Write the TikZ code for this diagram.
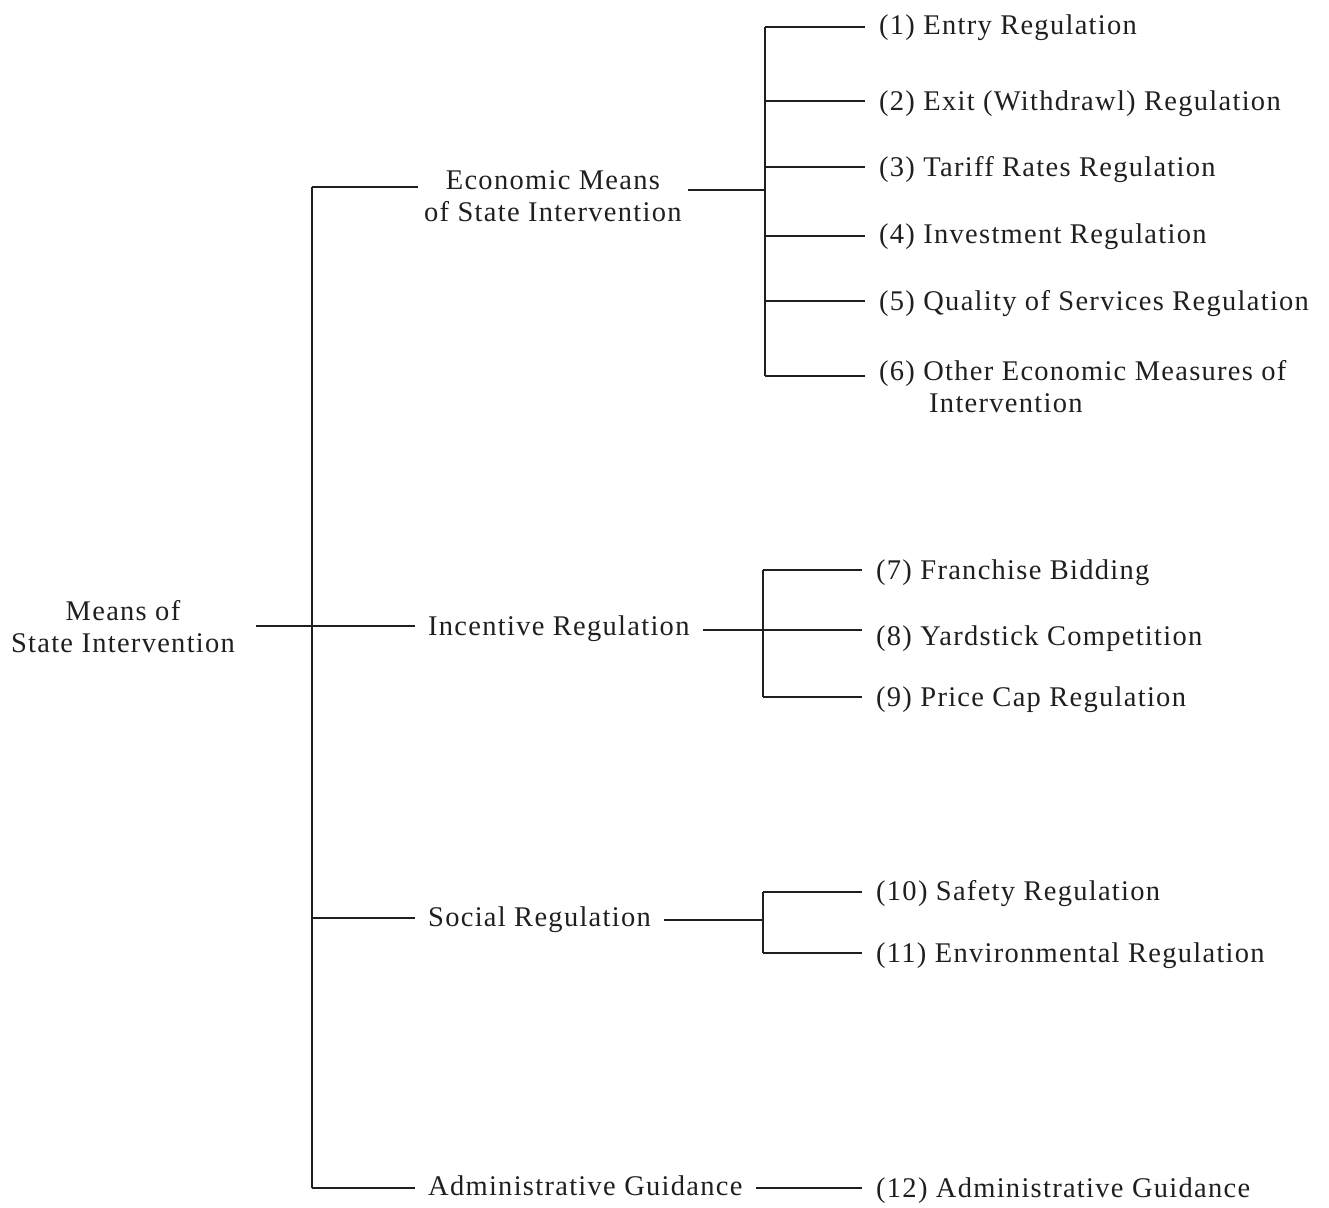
\documentclass[tikz,border=0pt]{standalone}
\usepackage{fontspec}
\setmainfont{Liberation Serif}[LetterSpace=4.5]
\begin{document}
\begin{tikzpicture}[x=1pt,y=-1pt,
  every node/.style={font=\fontsize{28.5}{32}\selectfont, text=black!88},
  conn/.style={line width=1.5pt, black!88},
  leaf/.style={anchor=west, inner xsep=14pt, inner ysep=0pt, yshift=-3pt},
  branch/.style={anchor=west, inner xsep=13pt, inner ysep=0pt, align=center}]
\useasboundingbox (0,0) rectangle (1329,1207);
% root
\node[align=center, inner xsep=21pt] (root) at (123,627) {Means of\\State Intervention};
% branches
\node[branch, inner xsep=6pt] (econ) at (418,196) {Economic Means\\of State Intervention};
\node[branch] (inc) at (415,629) {Incentive Regulation};
\node[branch] (soc) at (415,920) {Social Regulation};
\node[branch] (adm) at (415,1186) {Administrative Guidance};
% trunk
\coordinate (tt) at (312,187);
\coordinate (tr) at (312,626);
\coordinate (ts) at (312,918);
\coordinate (tb) at (312,1188);
\draw[conn] (tt) -- (tb);
\draw[conn] (root.east |- tr) -- (tr) -- (tr -| inc.west);
\draw[conn] (tt) -- (tt -| econ.west);
\draw[conn] (ts) -- (ts -| soc.west);
\draw[conn] (tb) -- (tb -| adm.west);
% leaves economic
\node[leaf] (l1) at (865,25) {(1) Entry Regulation};
\node[leaf] (l2) at (865,101) {(2) Exit (Withdrawl) Regulation};
\node[leaf] (l3) at (865,167) {(3) Tariff Rates Regulation};
\node[leaf] (l4) at (865,234) {(4) Investment Regulation};
\node[leaf] (l5) at (865,301) {(5) Quality of Services Regulation};
\node[leaf, align=left] (l6) at (865,384) {(6) Other Economic Measures of\\\hspace*{50pt}Intervention};
\coordinate (je) at (765,190);
\coordinate (je1) at (765,27);
\coordinate (je2) at (765,101);
\coordinate (je3) at (765,167);
\coordinate (je4) at (765,236);
\coordinate (je5) at (765,301);
\coordinate (je6) at (765,376);
\draw[conn] (econ.east |- je) -- (je);
\draw[conn] (je1) -- (je6);
\draw[conn] (je1) -- (je1 -| l1.west);
\draw[conn] (je2) -- (je2 -| l2.west);
\draw[conn] (je3) -- (je3 -| l3.west);
\draw[conn] (je4) -- (je4 -| l4.west);
\draw[conn] (je5) -- (je5 -| l5.west);
\draw[conn] (je6) -- (je6 -| l6.west);
% leaves incentive
\node[leaf] (l7) at (862,570) {(7) Franchise Bidding};
\node[leaf] (l8) at (862,636) {(8) Yardstick Competition};
\node[leaf] (l9) at (862,697) {(9) Price Cap Regulation};
\coordinate (ji7) at (763,570);
\coordinate (ji) at (763,630);
\coordinate (ji9) at (763,697);
\draw[conn] (ji7) -- (ji9);
\draw[conn] (ji7) -- (ji7 -| l7.west);
\draw[conn] (inc.east |- ji) -- (ji -| l8.west);
\draw[conn] (ji9) -- (ji9 -| l9.west);
% leaves social
\node[leaf] (l10) at (862,891) {(10) Safety Regulation};
\node[leaf] (l11) at (862,953) {(11) Environmental Regulation};
\coordinate (js10) at (763,892);
\coordinate (js) at (763,920);
\coordinate (js11) at (763,953);
\draw[conn] (js10) -- (js11);
\draw[conn] (js10) -- (js10 -| l10.west);
\draw[conn] (js11) -- (js11 -| l11.west);
\draw[conn] (soc.east |- js) -- (js);
% admin
\coordinate (ja) at (762,1188);
\node[leaf] (l12) at (862,1188) {(12) Administrative Guidance};
\draw[conn] (adm.east |- ja) -- (ja -| l12.west);
\end{tikzpicture}
\end{document}
